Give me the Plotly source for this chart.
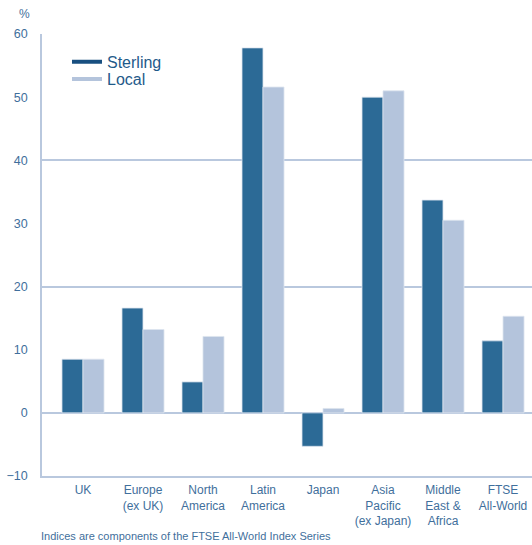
import plotly.graph_objects as go

categories = ["UK", "Europe<br>(ex UK)", "North<br>America", "Latin<br>America", "Japan",
              "Asia<br>Pacific<br>(ex Japan)", "Middle<br>East &<br>Africa", "FTSE<br>All-World"]
sterling = [8.5, 16.6, 4.9, 57.8, -5.3, 50.0, 33.7, 11.4]
local = [8.5, 13.2, 12.1, 51.6, 0.7, 51.0, 30.5, 15.3]
y_ticks = [-10, 0, 10, 20, 30, 40, 50, 60]
grid_ticks = [0, 20, 40, 60]

C_STER = "#2c6a96"
C_LOC = "#b4c4dc"
C_TEXT = "#3f6f9c"
C_AXIS = "#b9c8de"
FONT = "Liberation Sans"

fig = go.Figure()
fig.add_trace(go.Bar(x=list(range(len(categories))), y=sterling, name="Sterling",
                     marker=dict(color=C_STER, line=dict(color="#dde5ef", width=0.8)),
                     showlegend=False))
fig.add_trace(go.Bar(x=list(range(len(categories))), y=local, name="Local",
                     marker=dict(color=C_LOC, line=dict(color="#dde5ef", width=0.8)),
                     showlegend=False))
# legend entries drawn as lines
fig.add_trace(go.Scatter(x=[None], y=[None], mode="lines", name="Sterling",
                         line=dict(color="#184f80", width=4), legend="legend"))
fig.add_trace(go.Scatter(x=[None], y=[None], mode="lines", name="Local",
                         line=dict(color=C_LOC, width=4), legend="legend2"))
# overlay axis for gridlines every 20
fig.add_trace(go.Scatter(x=[None], y=[None], yaxis="y2", showlegend=False))

leg_common = dict(xanchor="left", yanchor="middle", bgcolor="rgba(0,0,0,0)",
                  font=dict(size=16, color="#1f5a8a"), itemwidth=30)

fig.update_layout(
    width=532, height=545,
    margin=dict(l=42, r=0, t=34, b=69, autoexpand=False),
    paper_bgcolor="white", plot_bgcolor="white",
    font=dict(family=FONT, color=C_TEXT, size=12),
    barmode="group", bargap=0.3, bargroupgap=0,
    xaxis=dict(range=[-0.683, 7.483], tickmode="array",
               tickvals=list(range(len(categories))), ticktext=categories,
               showgrid=False, zeroline=False, showline=True, linecolor=C_AXIS,
               linewidth=1.5, ticks="", automargin=False, ticklabelstandoff=2,
               tickfont=dict(size=12, color=C_TEXT)),
    yaxis=dict(range=[-10, 60], tickmode="array", tickvals=y_ticks,
               showgrid=False, zeroline=False, showline=True, linecolor=C_AXIS,
               linewidth=1.5, ticks="", ticklabelstandoff=10, automargin=False,
               tickfont=dict(size=12.5, color=C_TEXT)),
    yaxis2=dict(range=[-10, 60], overlaying="y", tickmode="array",
                tickvals=grid_ticks, showgrid=True, gridcolor=C_AXIS,
                gridwidth=1.5, showticklabels=False, zeroline=False, ticks="",
                automargin=False),
    legend=dict(x=0.051, y=0.937, **leg_common),
    legend2=dict(x=0.051, y=0.898, **leg_common),
    annotations=[
        dict(text="%", x=0, xref="paper", xshift=-18, xanchor="center",
             y=1, yref="paper", yshift=20, yanchor="middle",
             showarrow=False, font=dict(size=12, color=C_TEXT)),
        dict(text="Indices are components of the FTSE All-World Index Series",
             x=0, xref="paper", y=0, yref="paper", yshift=-60, xshift=-3,
             xanchor="left", yanchor="middle", showarrow=False,
             font=dict(size=11, color=C_TEXT)),
    ],
)
fig.write_html("out.html", config={"displayModeBar": False},
               post_script="document.body.style.margin='0';document.body.style.overflow='hidden';")
